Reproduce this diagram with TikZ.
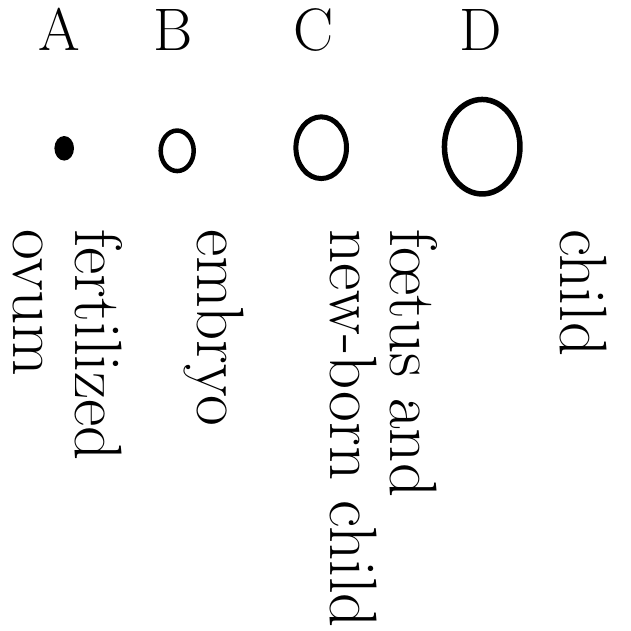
\documentclass[tikz,border=0pt]{standalone}
\usetikzlibrary{shapes.geometric}
\begin{document}
\begin{tikzpicture}[x=1pt,y=-1pt,
  lett/.style={font=\fontsize{60}{64}\selectfont, anchor=base, inner sep=0pt},
  lbl/.style={font=\fontsize{67}{67}\selectfont, rotate=-90, anchor=base west, inner sep=0pt},
  ring/.style={ellipse, draw, inner sep=0pt}]
\useasboundingbox (0,0) rectangle (631,630);
% column letters
\node[lett] (A) at (59,50) {A};
\node[lett] (B) at (173,50) {B};
\node[lett] (C) at (314,50) {C};
\node[lett] (D) at (481,50) {D};
% circles
\node[ellipse, fill, inner sep=0pt, minimum width=19.6pt, minimum height=24.6pt] (dotA) at (64.2,148.3) {};
\node[ring, line width=4.5pt, minimum width=33pt, minimum height=40.5pt] (ringB) at (177.2,150.8) {};
\node[ring, line width=5pt, minimum width=50.6pt, minimum height=61.7pt] (ringC) at (321.2,147.7) {};
\node[ring, line width=5.5pt, minimum width=75.5pt, minimum height=94.5pt] (ringD) at (482.2,146.7) {};
% rotated labels
\node[lbl] (a1) at (75,229) {fertilized};
\node[lbl] (a2) at (13,229) {ovum};
\node[lbl] (b1) at (197,229) {embryo};
\node[lbl] (c1) at (390,229) {f\oe tus and};
\node[lbl] (c2) at (330,229) {new-born child};
\node[lbl] (d1) at (560,229) {child};
\end{tikzpicture}
\end{document}
